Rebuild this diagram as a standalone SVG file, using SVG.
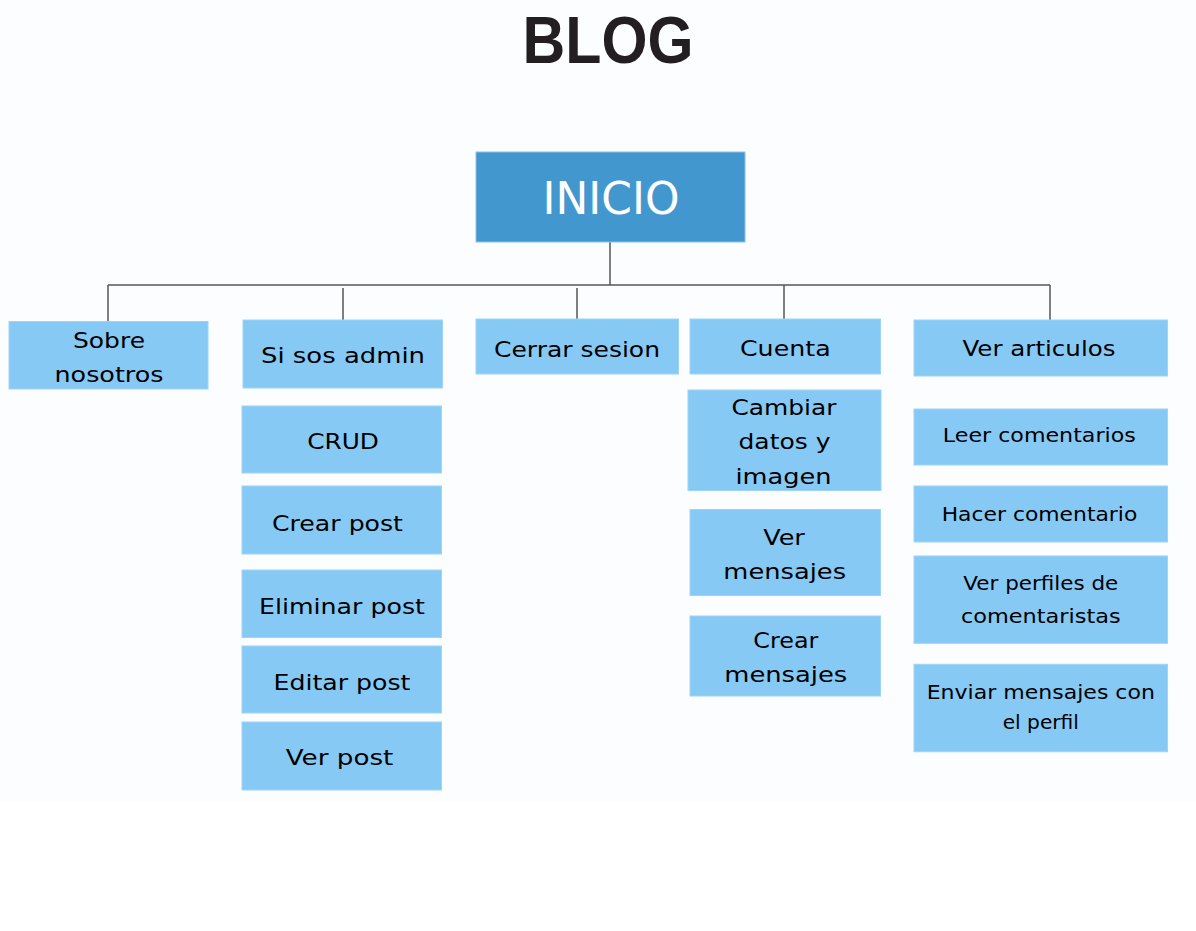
<svg xmlns="http://www.w3.org/2000/svg" width="1196" height="931" viewBox="0 0 1196 931">
<style>
.box{fill:#87c9f5;stroke:#9dd3f7;stroke-width:1}
.t{font-family:"DejaVu Sans","Liberation Sans",sans-serif;font-size:22px;fill:#000;text-anchor:middle}
.s{font-size:20px}
.s2{font-size:19px}
.ln{stroke:#555;stroke-width:1.5;fill:none}
</style>
<rect x="0" y="0" width="1196" height="931" fill="#ffffff"/>
<rect x="0" y="0" width="1196" height="801" fill="#fbfdff"/>
<text x="608" y="63" font-family="'Liberation Sans',Arial,sans-serif" font-weight="700" font-size="66" fill="#231f20" text-anchor="middle" textLength="171" lengthAdjust="spacingAndGlyphs">BLOG</text>
<g id="connectors">
<path class="ln" d="M610 242 V285 M108 285 H1050 M108 285 V321 M343 288 V320 M577 288 V319 M784 285 V319 M1050 285 V320"/>
</g>
<g id="inicio">
<rect x="476" y="152" width="269" height="90" fill="#4297cf" stroke="#8cc2e6" stroke-width="1"/>
<text x="611" y="214" font-family="'DejaVu Sans',Lato,sans-serif" font-weight="400" font-size="44" fill="#ffffff" text-anchor="middle" textLength="137" lengthAdjust="spacingAndGlyphs">INICIO</text>
</g>
<g id="sobre">
<rect class="box" x="9" y="321.5" width="199" height="67.5"/>
<text class="t" x="109" y="348" textLength="72" lengthAdjust="spacingAndGlyphs">Sobre</text>
<text class="t" x="109" y="382" textLength="109" lengthAdjust="spacingAndGlyphs">nosotros</text>
</g>
<g id="admin">
<rect class="box" x="243" y="320" width="199.5" height="68"/>
<text class="t" x="343" y="363" textLength="164" lengthAdjust="spacingAndGlyphs">Si sos admin</text>
</g>
<g id="crud">
<rect class="box" x="242" y="406" width="199.5" height="67"/>
<text class="t" x="343" y="448.7" textLength="71.7" lengthAdjust="spacingAndGlyphs">CRUD</text>
</g>
<g id="crear-post">
<rect class="box" x="242" y="486" width="199.5" height="68"/>
<text class="t" x="337.5" y="531" textLength="131" lengthAdjust="spacingAndGlyphs">Crear post</text>
</g>
<g id="eliminar-post">
<rect class="box" x="242" y="570" width="199.5" height="67.5"/>
<text class="t" x="342" y="614" textLength="166" lengthAdjust="spacingAndGlyphs">Eliminar post</text>
</g>
<g id="editar-post">
<rect class="box" x="242" y="646" width="199.5" height="67"/>
<text class="t" x="342" y="690" textLength="137" lengthAdjust="spacingAndGlyphs">Editar post</text>
</g>
<g id="ver-post">
<rect class="box" x="242" y="722" width="199.5" height="68"/>
<text class="t" x="339.5" y="765" textLength="107.7" lengthAdjust="spacingAndGlyphs">Ver post</text>
</g>
<g id="cerrar">
<rect class="box" x="476" y="319" width="202.5" height="55"/>
<text class="t" x="577" y="356.7" textLength="166" lengthAdjust="spacingAndGlyphs">Cerrar sesion</text>
</g>
<g id="cuenta">
<rect class="box" x="690" y="319" width="190.5" height="55"/>
<text class="t" x="785.3" y="356" textLength="90.7" lengthAdjust="spacingAndGlyphs">Cuenta</text>
</g>
<g id="cambiar">
<rect class="box" x="688" y="390" width="193" height="100.5"/>
<text class="t" x="784" y="415" textLength="105" lengthAdjust="spacingAndGlyphs">Cambiar</text>
<text class="t" x="784.5" y="449" textLength="92" lengthAdjust="spacingAndGlyphs">datos y</text>
<text class="t" x="783.5" y="484" textLength="96" lengthAdjust="spacingAndGlyphs">imagen</text>
</g>
<g id="ver-mensajes">
<rect class="box" x="690" y="509.5" width="190.5" height="86"/>
<text class="t" x="784" y="545" textLength="41.7" lengthAdjust="spacingAndGlyphs">Ver</text>
<text class="t" x="784.7" y="579" textLength="122.7" lengthAdjust="spacingAndGlyphs">mensajes</text>
</g>
<g id="crear-mensajes">
<rect class="box" x="690" y="616" width="190.5" height="80"/>
<text class="t" x="785.8" y="647.7" textLength="65" lengthAdjust="spacingAndGlyphs">Crear</text>
<text class="t" x="785.8" y="681.7" textLength="123" lengthAdjust="spacingAndGlyphs">mensajes</text>
</g>
<g id="ver-articulos">
<rect class="box" x="914" y="320" width="253.5" height="56"/>
<text class="t" x="1039" y="356" textLength="153" lengthAdjust="spacingAndGlyphs">Ver articulos</text>
</g>
<g id="leer-comentarios">
<rect class="box" x="914" y="409" width="253.5" height="56"/>
<text class="t s" x="1039.3" y="441.7" textLength="193" lengthAdjust="spacingAndGlyphs">Leer comentarios</text>
</g>
<g id="hacer-comentario">
<rect class="box" x="914" y="486" width="253.5" height="56"/>
<text class="t s" x="1039.5" y="521" textLength="195.6" lengthAdjust="spacingAndGlyphs">Hacer comentario</text>
</g>
<g id="ver-perfiles">
<rect class="box" x="914" y="556" width="253.5" height="87.3"/>
<text class="t s2" x="1040.8" y="590" textLength="155" lengthAdjust="spacingAndGlyphs">Ver perfiles de</text>
<text class="t s2" x="1040.8" y="622.7" textLength="159.7" lengthAdjust="spacingAndGlyphs">comentaristas</text>
</g>
<g id="enviar-mensajes">
<rect class="box" x="914" y="664.3" width="253.5" height="87.4"/>
<text class="t s" x="1040.8" y="699" textLength="228.3" lengthAdjust="spacingAndGlyphs">Enviar mensajes con</text>
<text class="t s" x="1040.8" y="729.3" textLength="76.3" lengthAdjust="spacingAndGlyphs">el perfil</text>
</g>
</svg>
